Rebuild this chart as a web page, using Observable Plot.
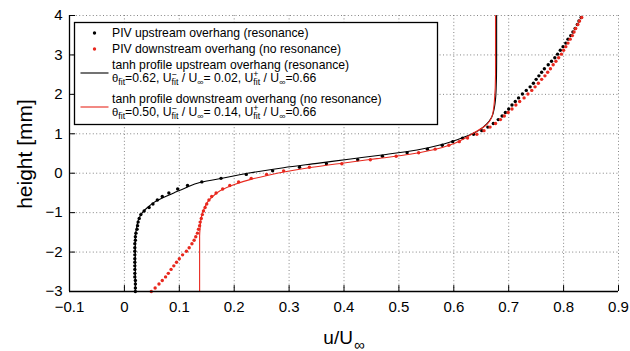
<!DOCTYPE html>
<html><head><meta charset="utf-8">
<script src="https://cdn.jsdelivr.net/npm/d3@7"></script>
<script src="https://cdn.jsdelivr.net/npm/@observablehq/plot@0.6"></script>
<style>body{margin:0;background:#fff} svg{display:block}</style>
</head><body><div id="chart"></div>
<script>
// ---- data ----
const heights = [
 -3.00,-2.91,-2.81,-2.72,-2.63,-2.54,-2.44,-2.35,-2.26,-2.17,
 -2.07,-1.98,-1.89,-1.79,-1.70,-1.61,-1.52,-1.42,-1.33,-1.24,
 -1.15,-1.05,-0.96,-0.87,-0.78,-0.68,-0.59,-0.50,-0.40,-0.31,
 -0.22,-0.13,-0.03,0.06,0.15,0.24,0.34,0.43,0.52,0.61,
 0.71,0.80,0.89,0.99,1.08,1.17,1.26,1.36,1.45,1.54,
 1.63,1.73,1.82,1.91,2.01,2.10,2.19,2.28,2.38,2.47,
 2.56,2.65,2.75,2.84,2.93,3.02,3.12,3.21,3.30,3.40,
 3.49,3.58,3.67,3.77,3.86,3.95];
const upstreamU = [
 0.020,0.020,0.020,0.020,0.019,0.019,0.019,0.019,0.019,0.019,
 0.019,0.019,0.019,0.019,0.020,0.020,0.021,0.023,0.024,0.025,
 0.027,0.030,0.036,0.045,0.052,0.060,0.069,0.081,0.097,0.115,
 0.141,0.176,0.222,0.270,0.319,0.368,0.425,0.470,0.515,0.552,
 0.579,0.598,0.616,0.636,0.651,0.662,0.672,0.681,0.688,0.694,
 0.700,0.706,0.712,0.718,0.725,0.732,0.739,0.745,0.750,0.755,
 0.760,0.765,0.772,0.778,0.784,0.789,0.794,0.799,0.804,0.808,
 0.813,0.817,0.821,0.825,0.828,0.832];
const downstreamU = [
 0.049,0.056,0.063,0.069,0.075,0.080,0.085,0.090,0.095,0.100,
 0.106,0.113,0.118,0.123,0.127,0.130,0.133,0.135,0.137,0.138,
 0.140,0.142,0.144,0.147,0.150,0.154,0.159,0.167,0.179,0.192,
 0.208,0.231,0.259,0.290,0.337,0.396,0.448,0.495,0.536,0.566,
 0.591,0.610,0.625,0.642,0.655,0.666,0.676,0.685,0.692,0.699,
 0.706,0.713,0.720,0.728,0.735,0.742,0.748,0.754,0.760,0.766,
 0.771,0.776,0.781,0.786,0.791,0.796,0.800,0.804,0.808,0.812,
 0.816,0.819,0.822,0.826,0.829,0.833];
const fitUpH = [-3.0,-2.0,-1.6,-1.4,-1.16,-1.01,-0.87,-0.74,-0.61,-0.50,-0.38,-0.23,-0.11,0.01,0.14,0.25,0.36,0.47,0.59,0.74,0.91,1.08,1.25,1.42,1.67,2.1,2.8,4.0];
const fitUpU = [0.020,0.020,0.020,0.022,0.026,0.032,0.042,0.054,0.072,0.090,0.110,0.139,0.185,0.230,0.290,0.351,0.412,0.473,0.533,0.582,0.618,0.645,0.660,0.669,0.674,0.677,0.678,0.678];
const fitDownH = [-3.0,-1.6,-1.38,-1.12,-0.91,-0.74,-0.60,-0.44,-0.29,-0.15,-0.05,0.05,0.15,0.26,0.37,0.48,0.60,0.74,0.87,1.02,1.21,1.46,1.84,2.5,4.0];
const fitDownU = [0.137,0.137,0.138,0.140,0.145,0.151,0.160,0.175,0.199,0.232,0.262,0.298,0.342,0.400,0.460,0.520,0.565,0.598,0.618,0.636,0.658,0.670,0.674,0.676,0.676];
const xTicks = [-0.1,0,0.1,0.2,0.3,0.4,0.5,0.6,0.7,0.8,0.9];
const yTicks = [-3,-2,-1,0,1,2,3,4];
const legendLabels = [
 "PIV upstream overhang (resonance)",
 "PIV downstream overhang (no resonance)",
 "tanh profile upstream overhang (resonance)",
 "tanh profile downstream overhang (no resonance)"];
const fitParams = [
 {theta:"0.62", uMinus:"0.02", uPlus:"0.66"},
 {theta:"0.50", uMinus:"0.14", uPlus:"0.66"}];
const xTitle = "u/U", xTitleSub = "∞", yTitle = "height [mm]";

// ---- build ----
const RED = "#e8281e";
const FONT = "'Liberation Sans', Arial, Helvetica, sans-serif";
const up = heights.map((h, i) => ({h, u: upstreamU[i]}));
const down = heights.map((h, i) => ({h, u: downstreamU[i]}));
const fitUp = fitUpH.map((h, i) => ({h, u: fitUpU[i]}));
const fitDown = fitDownH.map((h, i) => ({h, u: fitDownU[i]}));
const grid = {stroke: "#666", strokeDasharray: "1,2.4", strokeWidth: 0.8};

const plot = Plot.plot({
  width: 630, height: 351,
  marginLeft: 69, marginRight: 12, marginTop: 15, marginBottom: 60,
  style: {fontFamily: FONT, fontSize: "15px", background: "#fff", color: "#000"},
  x: {domain: [-0.1, 0.9], ticks: xTicks, tickSize: 0, tickPadding: 10, label: null,
      tickFormat: d => String(d).replace("-", "\u2212")},
  y: {domain: [-3, 4], ticks: yTicks, tickSize: 0, tickPadding: 7, label: null,
      tickFormat: d => String(d).replace("-", "\u2212")},
  marks: [
    Plot.ruleX(xTicks, grid),
    Plot.ruleY(yTicks, grid),
    Plot.dot(up, {x: "u", y: "h", r: 1.7, fill: "#000", stroke: null}),
    Plot.dot(down, {x: "u", y: "h", r: 1.7, fill: RED, stroke: null}),
    Plot.line(fitUp, {x: "u", y: "h", stroke: "#000", strokeWidth: 1.1, curve: "monotone-y"}),
    Plot.line(fitDown, {x: "u", y: "h", stroke: RED, strokeWidth: 1.1, curve: "monotone-y"}),
    Plot.ruleX([-0.1], {stroke: "#000", strokeWidth: 1.3}),
    Plot.ruleY([-3], {stroke: "#000", strokeWidth: 1.3}),
    Plot.ruleX(xTicks, {y1: -3, y2: -2.85, stroke: "#000", strokeWidth: 1}),
    Plot.ruleY(yTicks, {x1: -0.1, x2: -0.089, stroke: "#000", strokeWidth: 1})
  ]
});
document.getElementById("chart").appendChild(plot);

// ---- legend & titles ----
const svg = d3.select(plot);
const g = svg.append("g").attr("font-family", FONT).attr("fill", "#000").attr("text-anchor", "start");
function put(s, x, y, size) {
  const t = g.append("text").attr("x", x).attr("y", y).attr("font-size", size).attr("text-anchor", "start")
    .attr("xml:space", "preserve").style("white-space", "pre").text(s);
  return t.node().getComputedTextLength();
}
function richLine(x0, y, items, size) {
  let x = x0;
  for (const it of items) {
    if (typeof it === "string") x += put(it, x, y, size);
    else if (it.greek) x += put(it.greek, x, y, size * 0.92);
    else {
      let w = 0;
      if (it.sup) w = Math.max(w, put(it.sup, x, y - size * 0.4, size * 0.72));
      if (it.sub) w = Math.max(w, put(it.sub, x, y + size * 0.32, size * 0.72));
      x += w;
    }
  }
  return x - x0;
}
g.append("rect").attr("x", 74.5).attr("y", 22.5).attr("width", 363).attr("height", 102)
  .attr("fill", "#fff").attr("stroke", "#000").attr("stroke-width", 1.3);
const LS = 12.2, TX = 112;
g.append("circle").attr("cx", 94.5).attr("cy", 33).attr("r", 1.7).attr("fill", "#000");
put(legendLabels[0], TX, 37, LS);
g.append("circle").attr("cx", 94.5).attr("cy", 49).attr("r", 1.7).attr("fill", RED);
put(legendLabels[1], TX, 53, LS);
const entries = [{y: 69, color: "#000", p: fitParams[0], label: legendLabels[2]},
                 {y: 103, color: RED, p: fitParams[1], label: legendLabels[3]}];
for (const e of entries) {
  g.append("line").attr("x1", 80.5).attr("x2", 108.5).attr("y1", e.y + 4).attr("y2", e.y + 4)
    .attr("stroke", e.color).attr("stroke-width", 1.1);
  put(e.label, TX, e.y, LS);
  richLine(TX, e.y + 12.5, [
    {greek: "θ"}, {sub: "fit"}, "=" + e.p.theta + ", U", {sup: "\u2212", sub: "fit"}, " / U", {sub: "∞"},
    "= " + e.p.uMinus + ", U", {sup: "+", sub: "fit"}, " / U", {sub: "∞"}, "=" + e.p.uPlus], LS);
}
// x title
{
  const gx = g.append("g");
  const t1 = gx.append("text").attr("y", 343.5).attr("font-size", 19).text(xTitle);
  const w1 = t1.node().getComputedTextLength();
  const t2 = gx.append("text").attr("y", 349.5).attr("font-size", 15).text(xTitleSub);
  const w2 = t2.node().getComputedTextLength();
  const x0 = 343.5 - (w1 + w2) / 2;
  t1.attr("x", x0); t2.attr("x", x0 + w1 + 1);
}
g.append("text").attr("transform", "translate(32,154) rotate(-90)").attr("text-anchor", "middle")
  .attr("font-size", 21).text(yTitle);
</script></body></html>
